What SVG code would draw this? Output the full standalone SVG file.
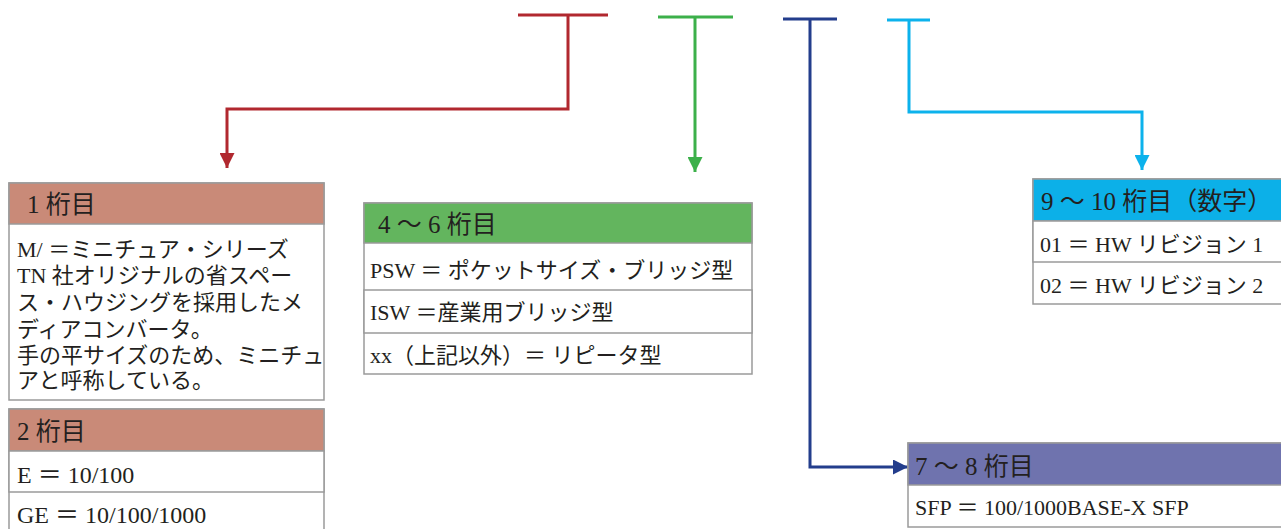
<svg xmlns="http://www.w3.org/2000/svg" width="1281" height="529" viewBox="0 0 1281 529">
<defs>
<style>
text{font-family:"Liberation Serif","Noto Sans CJK JP",serif;fill:#231f20}
.h{font-size:25px}
.b{font-size:22px}
.l{font-size:24px}
.box{fill:#fff;stroke:#9a9a9a;stroke-width:1.5}
.c{fill:none;stroke-width:3}
</style>
<marker id="ar-r" viewBox="0 0 10 10" refX="10" refY="5" markerWidth="5.5" markerHeight="5" orient="auto" markerUnits="strokeWidth"><path d="M0,0L10,5L0,10z" fill="#b1282f"/></marker>
<marker id="ar-g" viewBox="0 0 10 10" refX="10" refY="5" markerWidth="5.5" markerHeight="5" orient="auto" markerUnits="strokeWidth"><path d="M0,0L10,5L0,10z" fill="#3cb04a"/></marker>
<marker id="ar-b" viewBox="0 0 10 10" refX="10" refY="5" markerWidth="5.5" markerHeight="5" orient="auto" markerUnits="strokeWidth"><path d="M0,0L10,5L0,10z" fill="#233d8c"/></marker>
<marker id="ar-c" viewBox="0 0 10 10" refX="10" refY="5" markerWidth="5.5" markerHeight="5" orient="auto" markerUnits="strokeWidth"><path d="M0,0L10,5L0,10z" fill="#0cb2ec"/></marker>
</defs>
<g id="connectors">
<path class="c" stroke="#b1282f" d="M518,15H608M568,15V109H227V168" marker-end="url(#ar-r)"/>
<path class="c" stroke="#3cb04a" d="M658,17H733M695,17V172" marker-end="url(#ar-g)"/>
<path class="c" stroke="#233d8c" d="M783,19H837M810,19V467H908" marker-end="url(#ar-b)"/>
<path class="c" stroke="#0cb2ec" d="M887,20H930M909,20V112H1142V170" marker-end="url(#ar-c)"/>
</g>
<g id="node-1">
<rect class="box" x="9" y="183" width="315" height="217"/>
<rect x="9" y="183" width="315" height="41" fill="#c98a78" stroke="#9a9a9a" stroke-width="1.5"/>
<text class="h" x="27" y="213">1 桁目</text>
<text class="b" x="17"><tspan x="17" y="257">M/ ＝ミニチュア・シリーズ</tspan><tspan x="17" y="283">TN 社オリジナルの省スペー</tspan><tspan x="17" y="310">ス・ハウジングを採用したメ</tspan><tspan x="17" y="337">ディアコンバータ。</tspan><tspan x="17" y="363">手の平サイズのため、ミニチュ</tspan><tspan x="17" y="388">アと呼称している。</tspan></text>
</g>
<g id="node-2">
<rect class="box" x="9" y="409" width="315" height="130"/>
<rect x="9" y="409" width="315" height="42" fill="#c98a78" stroke="#9a9a9a" stroke-width="1.5"/>
<rect class="box" x="9" y="451" width="315" height="41"/>
<text class="h" x="17" y="440">2 桁目</text>
<text class="l" x="17" y="483">E ＝ 10/100</text>
<text class="l" x="17" y="523">GE ＝ 10/100/1000</text>
</g>
<g id="node-3">
<rect class="box" x="364" y="203" width="388" height="171"/>
<rect x="364" y="203" width="388" height="40" fill="#63b55e" stroke="#9a9a9a" stroke-width="1.5"/>
<rect class="box" x="364" y="290" width="388" height="43"/>
<text class="h" x="378" y="233">4 ～ 6 桁目</text>
<text class="b" x="370" y="278">PSW ＝ ポケットサイズ・ブリッジ型</text>
<text class="b" x="370" y="320">ISW ＝産業用ブリッジ型</text>
<text class="b" x="370" y="363">xx（上記以外）＝ リピータ型</text>
</g>
<g id="node-4">
<rect class="box" x="1033" y="179" width="260" height="125"/>
<rect x="1033" y="179" width="260" height="42" fill="#0cb0e8" stroke="#9a9a9a" stroke-width="1.5"/>
<rect class="box" x="1033" y="221" width="260" height="41"/>
<text class="h" x="1041" y="210">9 ～ 10 桁目（数字）</text>
<text class="b" x="1040" y="252">01 ＝ HW リビジョン 1</text>
<text class="b" x="1040" y="293">02 ＝ HW リビジョン 2</text>
</g>
<g id="node-5">
<rect class="box" x="908" y="443" width="385" height="84"/>
<rect x="908" y="443" width="385" height="42" fill="#6f73ae" stroke="#9a9a9a" stroke-width="1.5"/>
<text class="h" x="915" y="475">7 ～ 8 桁目</text>
<text class="b" x="915" y="515">SFP ＝ 100/1000BASE-X SFP</text>
</g>
</svg>
